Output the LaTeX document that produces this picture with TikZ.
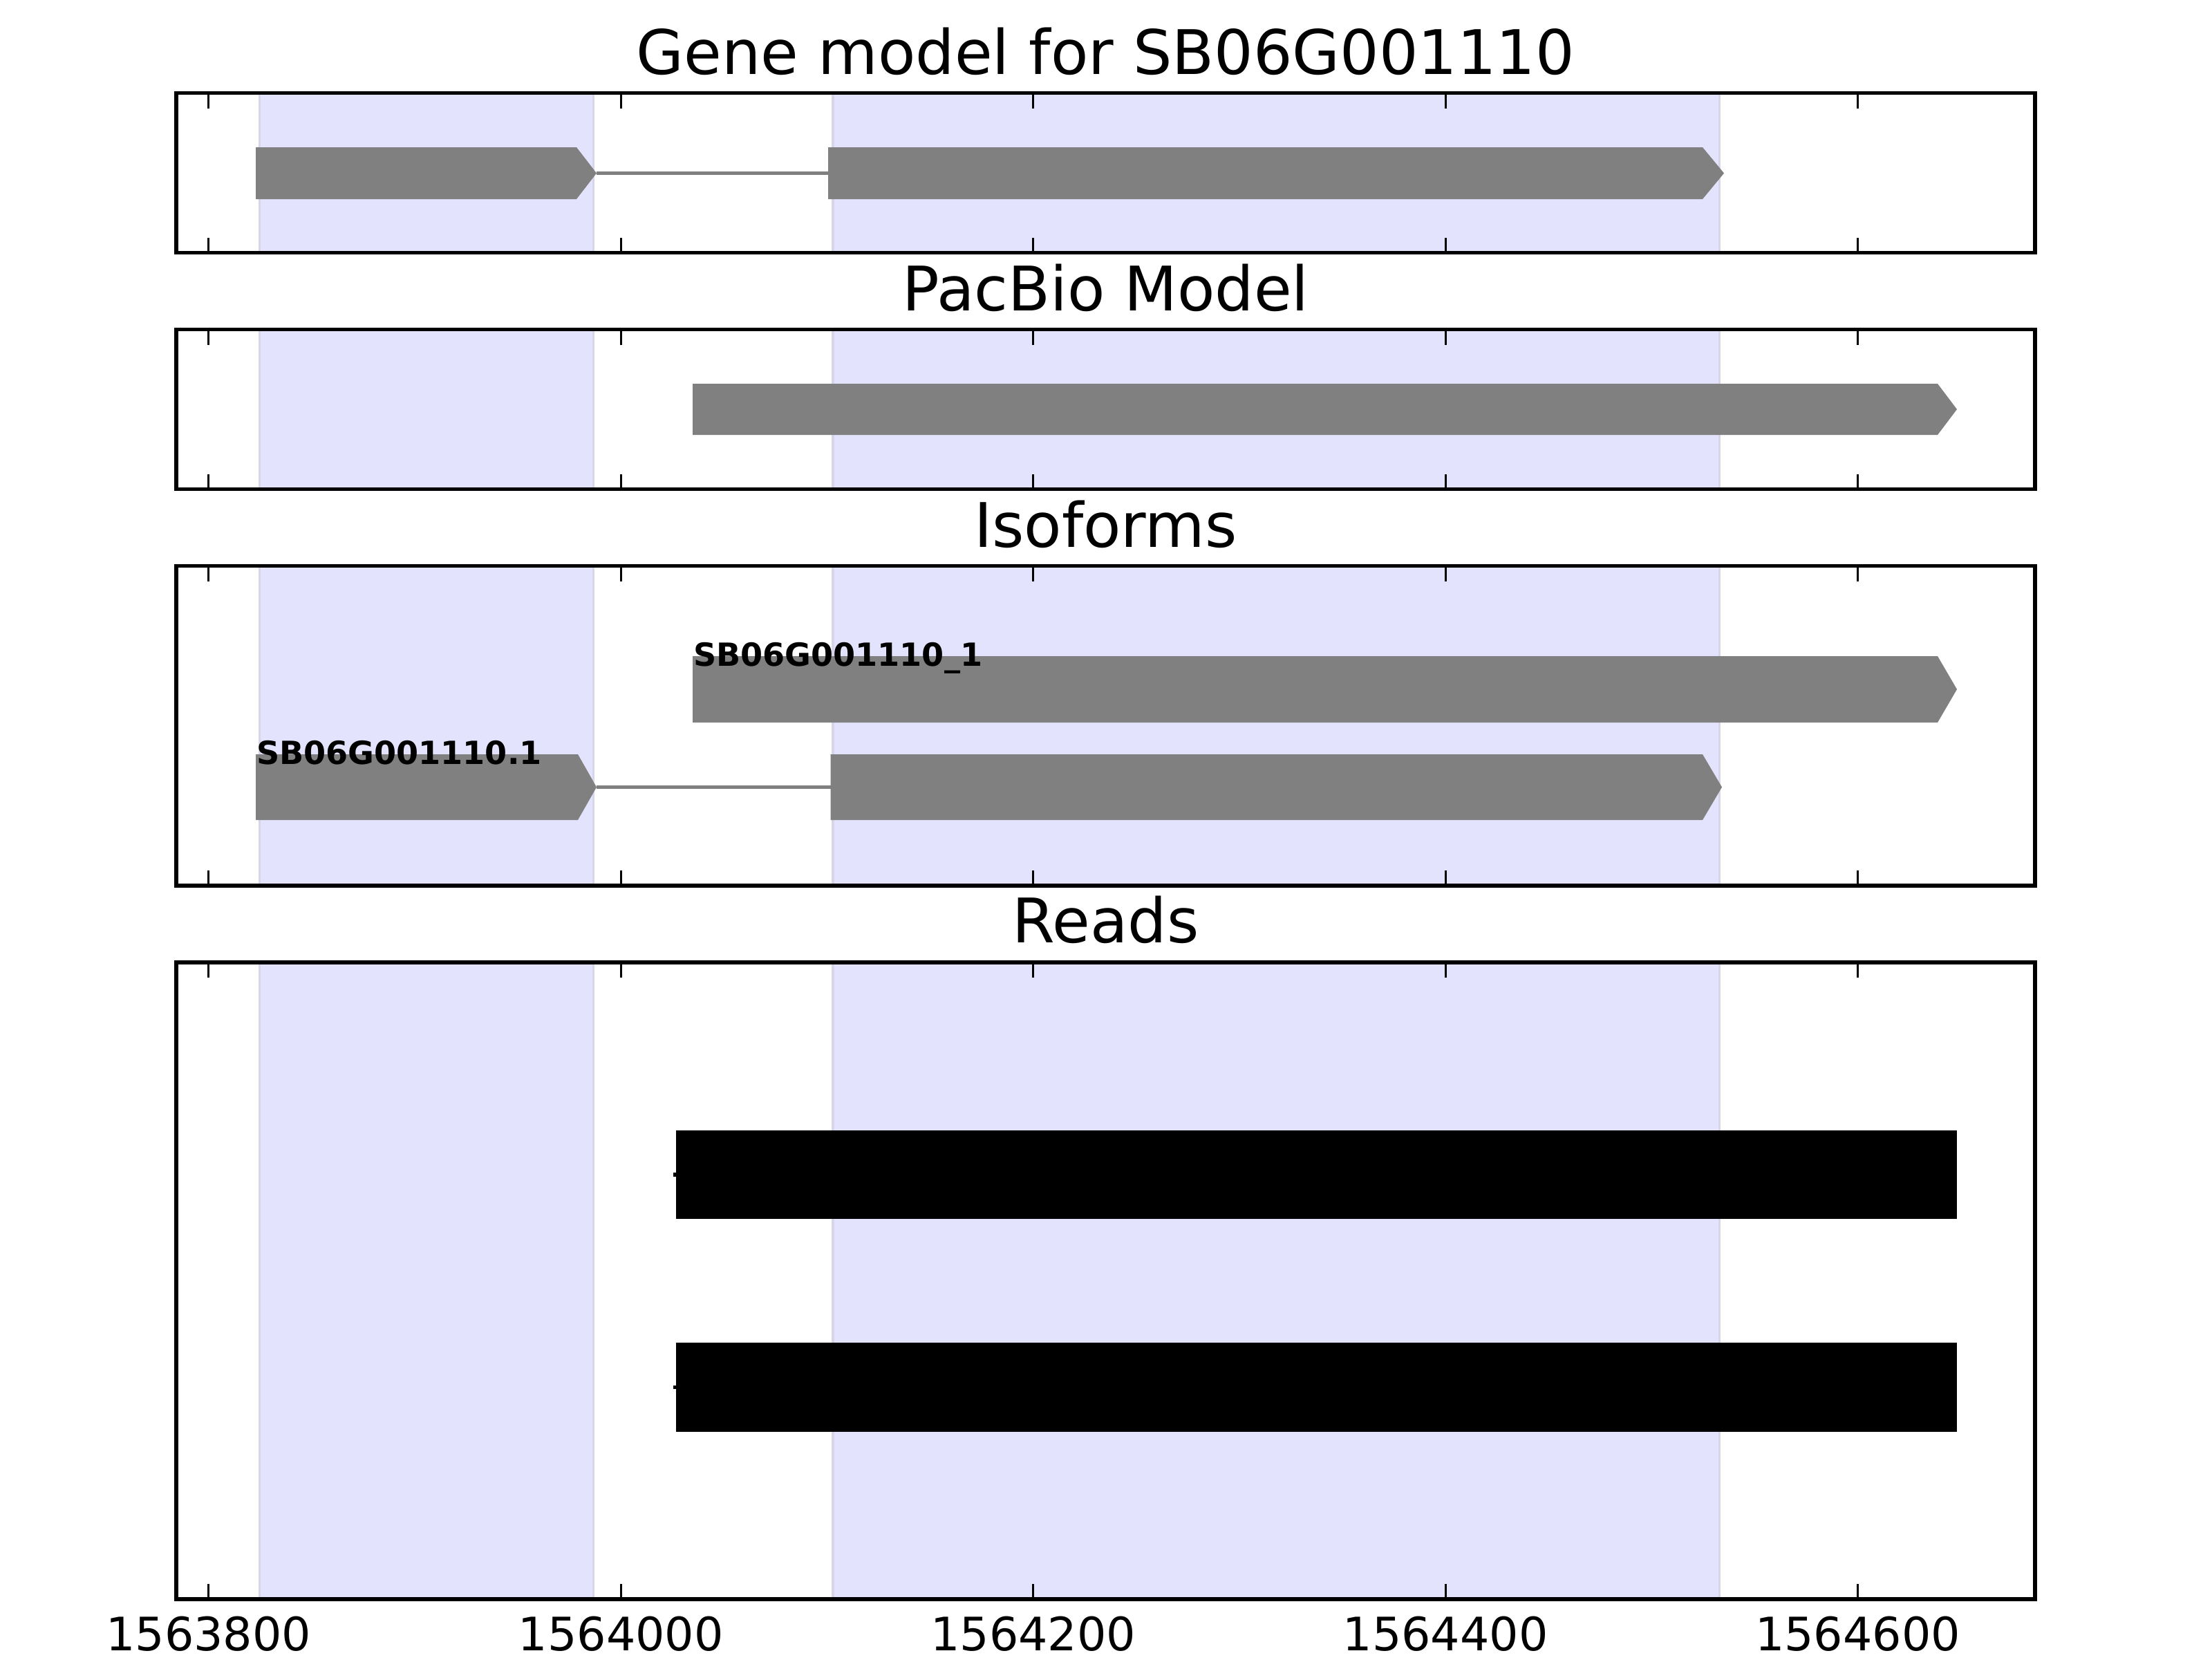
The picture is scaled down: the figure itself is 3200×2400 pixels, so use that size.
\documentclass[tikz,border=0pt]{standalone}
\usepackage{fontspec}
\setmainfont{DejaVu Sans}
\usetikzlibrary{positioning}
\definecolor{shade}{RGB}{227, 227, 253}
\definecolor{shadeedge}{RGB}{214, 214, 232}
\definecolor{feature}{RGB}{128, 128, 128}

\begin{document}
\begin{tikzpicture}[x=0.18pt, y=-0.18pt,
    frame/.style={line width=1pt},
    tickmark/.style={line width=0.5pt},
    region/.style={fill=shade, draw=shadeedge, line width=0.7pt},
    intron/.style={feature, line width=1pt},
    paneltitle/.style={anchor=base, inner sep=0, font=\fontsize{16}{19}\selectfont},
    ticklabel/.style={anchor=base, inner sep=0, font=\fontsize{12}{14}\selectfont},
    isolabel/.style={anchor=base west, inner sep=0, font=\fontsize{8.3}{10}\selectfont\bfseries}]
    \useasboundingbox (0,0) rectangle (3200,2400);

    % Shaded exon regions
    \foreach \top/\bot in {134.5/365.5, 476.5/707.5, 818.5/1281, 1392/2313} {
        \filldraw[region] (375.5,\top) rectangle (858.5,\bot);
        \filldraw[region] (1204.8,\top) rectangle (2487.5,\bot);
    }

    % Gene model
    \fill[feature] (370,213) -- (834,213) -- (863,250.5) -- (834,288) -- (370,288) -- cycle;
    \draw[intron] (863,250.5) -- (1198,250.5);
    \fill[feature] (1198,213) -- (2463,213) -- (2494,250.5) -- (2463,288) -- (1198,288) -- cycle;

    % PacBio model
    \fill[feature] (1002,555) -- (2803,555) -- (2831,592) -- (2803,629) -- (1002,629) -- cycle;

    % Isoforms
    \fill[feature] (1002,949) -- (2803,949) -- (2831,997) -- (2803,1045) -- (1002,1045) -- cycle;
    \fill[feature] (370,1091) -- (836,1091) -- (863,1138.5) -- (836,1186) -- (370,1186) -- cycle;
    \draw[intron] (863,1138.5) -- (1201.7,1138.5);
    \fill[feature] (1201.7,1091) -- (2463,1091) -- (2491,1138.5) -- (2463,1186) -- (1201.7,1186) -- cycle;
    \node[isolabel] (isoA) at (1002,963) {SB06G001110\_1};
    \node[isolabel] (isoB) at (370,1105) {SB06G001110.1};

    % Reads
    \fill[black] (978,1635) rectangle (2831,1763);
    \draw[line width=1pt] (974,1699) -- (978,1699);
    \fill[black] (978,1942) rectangle (2831,2071);
    \draw[line width=1pt] (974,2006.5) -- (978,2006.5);

    % Frames and ticks
    \foreach \top/\bot in {134.5/365.5, 476.5/707.5, 818.5/1281, 1392/2313} {
        \foreach \k in {0,...,4} {
            \draw[tickmark] ({301.8+596.45*\k},\top) -- ++(0,22);
            \draw[tickmark] ({301.8+596.45*\k},\bot) -- ++(0,-22);
        }
        \draw[frame] (255,\top) rectangle (2944,\bot);
    }

    % Tick labels
    \foreach \k/\lab in {0/1563800, 1/1564000, 2/1564200, 3/1564400, 4/1564600}
        \node[ticklabel] (tick\k) at ({301.8+596.45*\k},2387) {\lab};

    % Titles
    \node[paneltitle] (gene) at (1599.5,107) {Gene model for SB06G001110};
    \node[paneltitle] (pacbio) at (1599.5,449) {PacBio Model};
    \node[paneltitle] (isoforms) at (1599.5,791) {Isoforms};
    \node[paneltitle] (reads) at (1599.5,1363) {Reads};
\end{tikzpicture}
\end{document}
